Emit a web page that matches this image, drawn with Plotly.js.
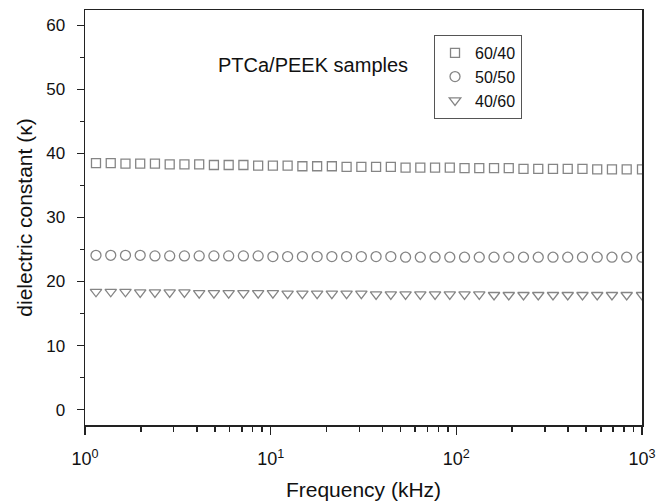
<!DOCTYPE html>
<html>
<head>
<meta charset="utf-8">
<script src="https://cdn.plot.ly/plotly-3.0.1.min.js"></script>
<style>html,body{margin:0;padding:0;background:#fff;}#chart{width:669px;height:502px;}</style>
</head>
<body>
<div id="chart"></div>
<script>
// Frequency (kHz)
const freq = [1.146, 1.376, 1.652, 1.983, 2.381, 2.859, 3.432, 4.121, 4.947, 5.940,
  7.131, 8.562, 10.28, 12.34, 14.82, 17.79, 21.36, 25.64, 30.79, 36.96,
  44.38, 53.28, 63.97, 76.80, 92.21, 110.7, 132.9, 159.6, 191.6, 230.0,
  276.2, 331.6, 398.1, 477.9, 573.8, 688.9, 827.1, 1000];
// dielectric constant series
const k6040 = [38.5, 38.5, 38.4, 38.4, 38.4, 38.3, 38.3, 38.3, 38.2, 38.2,
  38.2, 38.1, 38.1, 38.1, 38.0, 38.0, 38.0, 37.9, 37.9, 37.9,
  37.9, 37.8, 37.8, 37.8, 37.8, 37.7, 37.7, 37.7, 37.7, 37.6,
  37.6, 37.6, 37.6, 37.6, 37.5, 37.5, 37.5, 37.5];
const k5050 = [24.1, 24.1, 24.1, 24.1, 24.0, 24.0, 24.0, 24.0, 24.0, 24.0,
  24.0, 24.0, 23.9, 23.9, 23.9, 23.9, 23.9, 23.9, 23.9, 23.9,
  23.9, 23.8, 23.8, 23.8, 23.8, 23.8, 23.8, 23.8, 23.8, 23.8,
  23.8, 23.8, 23.8, 23.8, 23.8, 23.8, 23.8, 23.8];
const k4060 = [18.4, 18.4, 18.4, 18.3, 18.3, 18.3, 18.3, 18.2, 18.2, 18.2,
  18.2, 18.2, 18.2, 18.1, 18.1, 18.1, 18.1, 18.1, 18.1, 18.0,
  18.0, 18.0, 18.0, 18.0, 18.0, 18.0, 18.0, 17.9, 17.9, 17.9,
  17.9, 17.9, 17.9, 17.9, 17.9, 17.9, 17.9, 17.9];
const seriesNames = ['60/40', '50/50', '40/60'];
const xTickVals = [1, 10, 100, 1000];
const xTickText = ['10<sup>0</sup>', '10<sup>1</sup>', '10<sup>2</sup>', '10<sup>3</sup>'];
const xMinorVals = [2,3,4,5,6,7,8,9,20,30,40,50,60,70,80,90,200,300,400,500,600,700,800,900];

const FONT = 'Liberation Sans, Arial, sans-serif';
const MC = '#858585';
const AX = '#222';

const mk = (sym, size) => ({symbol: sym, size: size, color: MC, line: {color: MC, width: 1.3}});

const data = [
  {x: freq, y: k6040, name: seriesNames[0], mode: 'markers', type: 'scatter', marker: mk('square-open', 9)},
  {x: freq, y: k5050, name: seriesNames[1], mode: 'markers', type: 'scatter', marker: mk('circle-open', 10)},
  {x: freq, y: k4060, name: seriesNames[2], mode: 'markers', type: 'scatter', marker: mk('triangle-down-open', 10)}
];

const layout = {
  width: 669, height: 502,
  margin: {l: 85, r: 27, t: 10, b: 77},
  paper_bgcolor: '#fff', plot_bgcolor: '#fff',
  font: {family: FONT, color: '#111', size: 17},
  showlegend: true,
  legend: {x: 0.6266, y: 0.94, xanchor: 'left', yanchor: 'top',
    bordercolor: '#555', borderwidth: 1, bgcolor: '#fff',
    font: {family: FONT, size: 16, color: '#111'}, itemwidth: 30, tracegroupgap: 0},
  xaxis: {
    type: 'log', range: [0, 3],
    tickmode: 'array', tickvals: xTickVals, ticktext: xTickText,
    ticks: 'outside', ticklen: 8, tickwidth: 1.5, tickcolor: AX,
    ticklabelstandoff: 9,
    showline: true, linecolor: AX, linewidth: 1.5, mirror: true,
    showgrid: false, zeroline: false,
    tickfont: {family: FONT, size: 18, color: '#111'},
    minor: {tickmode: 'array', tickvals: xMinorVals, ticks: 'outside', ticklen: 5, tickwidth: 1.5, tickcolor: AX, showgrid: false},
    title: {text: 'Frequency (kHz)', font: {family: FONT, size: 21, color: '#111'}, standoff: 14}
  },
  yaxis: {
    range: [-2.4, 62.4],
    tickmode: 'linear', tick0: 0, dtick: 10,
    ticks: 'outside', ticklen: 7, tickwidth: 1.5, tickcolor: AX,
    ticklabelstandoff: 8,
    showline: true, linecolor: AX, linewidth: 1.5, mirror: true,
    showgrid: false, zeroline: false,
    tickfont: {family: FONT, size: 17, color: '#111'},
    minor: {dtick: 5, ticks: 'outside', ticklen: 4, tickwidth: 1.5, tickcolor: AX, showgrid: false},
    title: {text: 'dielectric constant (\u03BA)', font: {family: FONT, size: 21, color: '#111'}, standoff: 8}
  },
  annotations: [{
    text: 'PTCa/PEEK samples', xref: 'paper', yref: 'paper',
    x: 0.41, y: 0.868, xanchor: 'center', yanchor: 'middle', showarrow: false,
    font: {family: FONT, size: 20, color: '#111'}
  }]
};

Plotly.newPlot('chart', data, layout, {displayModeBar: false, staticPlot: true});
</script>
</body>
</html>
